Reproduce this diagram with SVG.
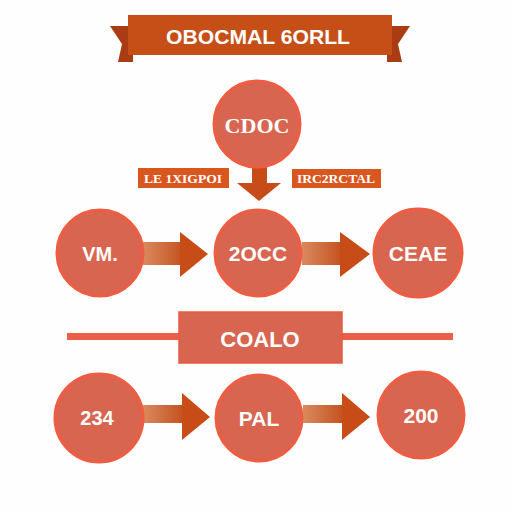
<svg xmlns="http://www.w3.org/2000/svg" width="512" height="512" viewBox="0 0 512 512">
<style>
.node{fill:#d8654f;stroke:#ee5d42;stroke-width:3}
.lbl{font-family:"Liberation Sans",Arial,sans-serif;font-weight:bold;fill:#fff;text-anchor:middle}
.arr{fill:#c84c18}
.shaft{fill:url(#sg)}
.tag{fill:#d9571f}
.tagt{font-family:"Liberation Serif",serif;font-size:13px;font-weight:bold;fill:#fff;text-anchor:middle}
</style>
<defs>
<linearGradient id="sg" x1="0" x2="1" y1="0" y2="0">
<stop offset="0" stop-color="#d98a5e"/>
<stop offset="1" stop-color="#c4521f"/>
</linearGradient>
</defs>
<rect width="512" height="512" fill="#fefefe"/>
<g id="banner">
<polygon points="110,26 133,26 133,62 118,62 122,44" fill="#a93c12"/>
<polygon points="410,26 387,26 387,62 402,62 398,44" fill="#a93c12"/>
<rect x="128" y="15" width="264" height="40" fill="#c54f17"/>
<text class="lbl" x="258" y="44" font-size="20" textLength="184" lengthAdjust="spacingAndGlyphs">OBOCMAL 6ORLL</text>
</g>
<g id="connectors">
<rect x="252" y="165" width="15" height="19" class="arr"/>
<polygon points="237,183 281,183 259,201" class="arr"/>
<rect x="143" y="242" width="40" height="23" class="shaft"/>
<polygon points="180,232 208,254 180,277" class="arr"/>
<rect x="302" y="242" width="40" height="23" class="shaft"/>
<polygon points="340,232 370,254 340,277" class="arr"/>
<rect x="143" y="405" width="40" height="18" class="shaft"/>
<polygon points="182,393 210,417 182,440" class="arr"/>
<rect x="303" y="405" width="40" height="18" class="shaft"/>
<polygon points="342,393 370,417 342,440" class="arr"/>
<rect x="67" y="333" width="386" height="7" fill="#ea5f45"/>
</g>
<g id="n-top">
<circle cx="257" cy="124" r="43" class="node"/>
<text class="lbl" x="257" y="133" font-size="22" style="font-family:'Liberation Serif',serif">CDOC</text>
</g>
<g id="tag-left">
<rect x="138" y="168" width="91" height="20" class="tag"/>
<text class="tagt" x="183" y="183" textLength="78" lengthAdjust="spacingAndGlyphs">LE 1XIGPOI</text>
</g>
<g id="tag-right">
<rect x="292" y="169" width="89" height="19" class="tag"/>
<text class="tagt" x="336" y="183" textLength="78" lengthAdjust="spacingAndGlyphs">IRC2RCTAL</text>
</g>
<g id="n-vm">
<circle cx="100" cy="253" r="43" class="node"/>
<text class="lbl" x="100" y="261" font-size="20">VM.</text>
</g>
<g id="n-2occ">
<circle cx="258" cy="253" r="43" class="node"/>
<text class="lbl" x="258" y="261" font-size="21">2OCC</text>
</g>
<g id="n-ceae">
<circle cx="418" cy="253" r="44" class="node"/>
<text class="lbl" x="418" y="261" font-size="21">CEAE</text>
</g>
<g id="n-coalo">
<rect x="179" y="312" width="163" height="51" fill="#d8654f" stroke="#ea5a40" stroke-width="1.5"/>
<text class="lbl" x="260" y="347" font-size="22">COALO</text>
</g>
<g id="n-234">
<circle cx="99" cy="418" r="44" class="node"/>
<text class="lbl" x="97" y="425" font-size="20">234</text>
</g>
<g id="n-pal">
<circle cx="259" cy="418" r="43" class="node"/>
<text class="lbl" x="259" y="426" font-size="21">PAL</text>
</g>
<g id="n-200">
<circle cx="421" cy="415" r="43" class="node"/>
<text class="lbl" x="421" y="423" font-size="21">200</text>
</g>
</svg>
